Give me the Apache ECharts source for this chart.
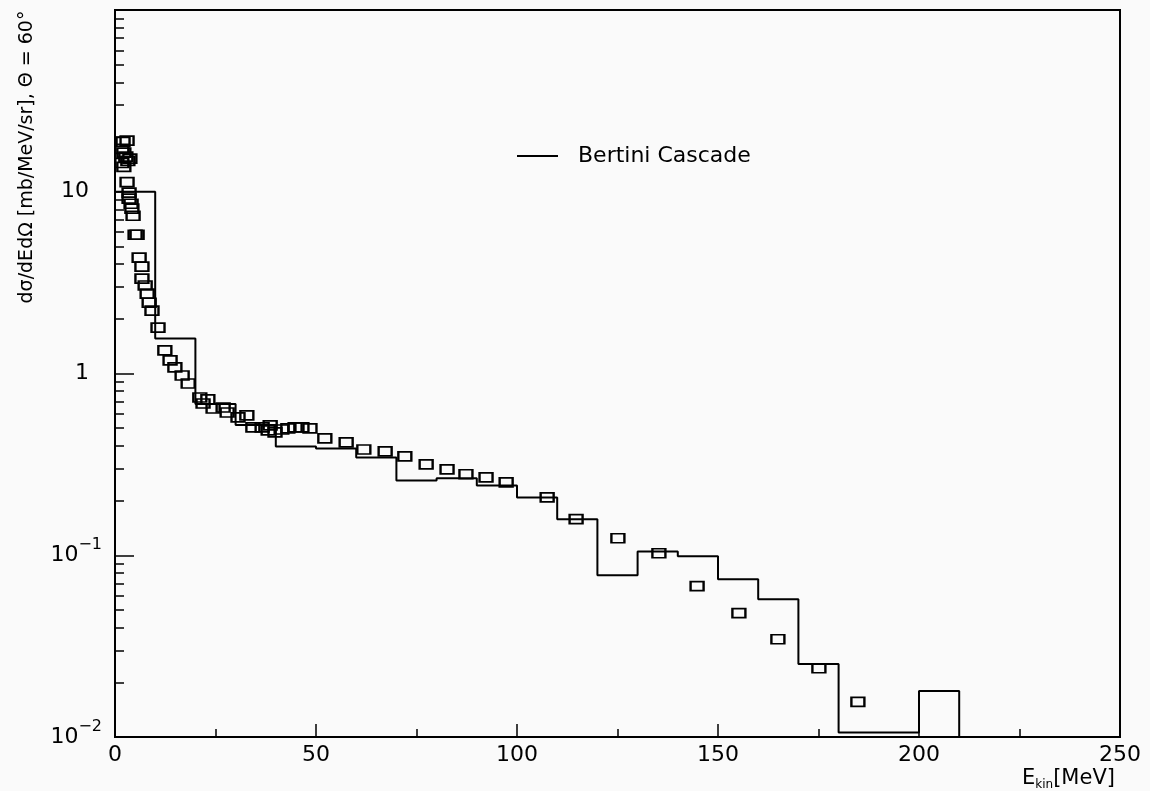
<!DOCTYPE html>
<html><head><meta charset="utf-8">
<script src="https://cdn.jsdelivr.net/npm/echarts@6/dist/echarts.min.js"></script>
<style>html,body{margin:0;padding:0;background:#fafafa}#c{width:1150px;height:791px}</style>
</head><body><div id="c"></div>
<script>
// Bertini Cascade histogram: left bin edges and bin contents
const binEdges = [0,10,20,30,40,50,60,70,80,90,100,110,120,130,140,150,160,170,180,190,200];
const cascadeValues = [10.0,1.56,0.68,0.52,0.397,0.387,0.345,0.258,0.265,0.242,0.208,0.158,0.0777,0.105,0.0987,0.0738,0.0573,0.0252,0.0106,0.0106,0.0179];
const lastEdge = 210;

// Experimental points (open squares)
const dataEnergy = [2.0,3.0,1.7,2.2,2.7,3.2,3.7,1.7,2.2,3.0,3.5,3.5,4.0,4.2,4.5,5.0,5.5,6.0,6.7,6.7,7.5,8.0,8.5,9.2,10.7,12.4,13.7,14.9,16.7,18.2,21.1,23.1,21.9,24.4,26.9,27.9,30.6,32.8,34.3,36.6,38.6,38.1,39.8,41.5,43.0,44.8,46.5,48.5,52.2,57.5,61.9,67.2,72.1,77.4,82.6,87.3,92.3,97.3,107.5,114.7,125.1,135.3,144.8,155.2,164.9,175.1,184.8,195.0];
const dataXsec = [18.8,19.1,17.2,16.4,15.6,14.8,15.2,14.4,13.7,11.3,9.88,9.16,8.59,8.07,7.38,5.80,5.80,4.34,3.87,3.33,3.05,2.75,2.45,2.22,1.79,1.34,1.18,1.08,0.975,0.881,0.738,0.72,0.684,0.642,0.65,0.61,0.573,0.588,0.505,0.505,0.518,0.486,0.474,0.492,0.499,0.505,0.505,0.499,0.44,0.418,0.382,0.373,0.350,0.316,0.297,0.279,0.268,0.252,0.208,0.158,0.124,0.1026,0.0676,0.048,0.0345,0.0239,0.0156,0.0099];

const xTicks = [0,50,100,150,200,250];
const yMin = 0.01, yMax = 100;
const yLabelValues = [0.01,0.1,1,10];
const yMajorTickValues = [0.01,0.1,1,10,100];
const seriesName = 'Bertini Cascade';
const yTitle = 'dσ/dEdΩ [mb/MeV/sr], Θ = 60°';

const FONT = 'DejaVu Sans';

const yMinorTicks = [];
[0.01,0.1,1,10].forEach(d => { for (let k = 2; k <= 9; k++) yMinorTicks.push(+(k*d).toPrecision(3)); });

const histData = binEdges.map((e,i) => [e, cascadeValues[i]]);
histData.push([lastEdge, yMin]);
const pointData = dataEnergy.map((e,i) => [e, dataXsec[i]]);

const chart = echarts.init(document.getElementById('c'), null, {renderer:'canvas'});
chart.setOption({
  animation: false,
  backgroundColor: '#fafafa',
  grid: {left:115, right:30, top:10, bottom:54, show:true, borderColor:'#000', borderWidth:2, backgroundColor:'transparent'},
  legend: {
    data:[seriesName], left:517, top:145, padding:0, icon:'rect', itemWidth:41, itemHeight:2,
    selectedMode:false,
    textStyle:{fontSize:22, color:'#000', fontFamily:FONT, padding:[0,0,0,15]}
  },
  xAxis: {
    type:'value', min:xTicks[0], max:xTicks[xTicks.length-1], interval:50,
    axisLine:{onZero:false, lineStyle:{color:'#000', width:2}},
    axisTick:{inside:true, length:13, lineStyle:{color:'#000', width:1.5}},
    minorTick:{show:true, splitNumber:2, length:8, lineStyle:{color:'#000', width:1.5}},
    axisLabel:{color:'#000', fontSize:22, fontFamily:FONT, margin:7},
    splitLine:{show:false}
  },
  yAxis: [{
    type:'log', logBase:10, min:yMin, max:yMax,
    axisLine:{show:true, lineStyle:{color:'#000', width:2}},
    axisTick:{show:true, inside:true, length:19, lineStyle:{color:'#000', width:1.5}, customValues:yMajorTickValues},
    axisLabel:{
      customValues:yLabelValues, margin:13, color:'#000',
      formatter: v => {
        const ex = Math.round(Math.log10(v));
        if (ex === 0) return '{p|1}';
        if (ex === 1) return '{p|10}';
        return '{b|10}{s|−' + (-ex) + '}';
      },
      rich:{
        p:{fontSize:22, fontFamily:FONT, color:'#000', padding:[0,13,0,0]},
        b:{fontSize:22, fontFamily:FONT, color:'#000'},
        s:{fontSize:16, fontFamily:FONT, color:'#000', padding:[0,0,20,0]}
      }
    },
    splitLine:{show:false}
  },{
    type:'log', logBase:10, min:yMin, max:yMax, position:'left',
    axisLine:{show:false},
    axisTick:{show:true, inside:true, length:9, lineStyle:{color:'#000', width:1.5}, customValues:yMinorTicks},
    axisLabel:{show:false},
    splitLine:{show:false}
  }],
  series: [{
    name:seriesName, type:'line', step:'end', data:histData, showSymbol:false, symbol:'none',
    lineStyle:{color:'#000', width:2}, itemStyle:{color:'#000'}, emphasis:{disabled:true}, z:2
  },{
    name:'data', type:'scatter', data:pointData, symbol:'rect', symbolSize:[13,9],
    itemStyle:{color:'rgba(0,0,0,0)', borderColor:'#000', borderWidth:2, opacity:1},
    emphasis:{disabled:true}, z:3
  }],
  graphic: [{
    type:'text', x:27, y:157, rotation:Math.PI/2,
    style:{text:yTitle, font:'19px "DejaVu Sans"', fill:'#000', align:'center', verticalAlign:'middle'}
  },{
    type:'text', x:1022, y:779,
    style:{
      text:'{e|E}{k|kin}{e|[MeV]}', verticalAlign:'middle', align:'left',
      rich:{
        e:{fontSize:21, fontFamily:FONT, fill:'#000', color:'#000'},
        k:{fontSize:12, fontFamily:FONT, fill:'#000', color:'#000', padding:[12,0,0,0]}
      }
    }
  }]
});
</script></body></html>
